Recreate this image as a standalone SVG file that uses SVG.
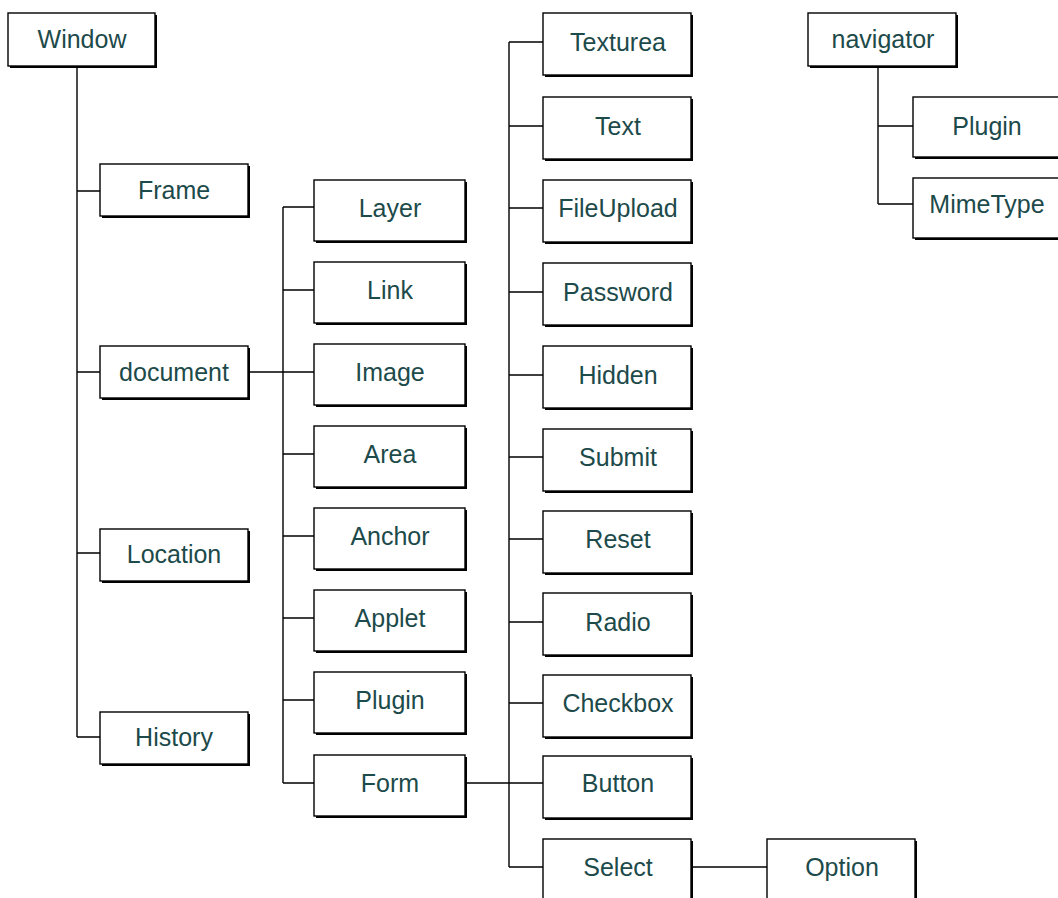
<svg xmlns="http://www.w3.org/2000/svg" width="1058" height="898" viewBox="0 0 1058 898">
<style>
.sh{fill:#000}
.bx{fill:#fff;stroke:#000;stroke-width:1.4}
.lb{font-family:"Liberation Sans",Arial,sans-serif;font-size:25px;fill:#1d4a4a;text-anchor:middle}
.cn{fill:none;stroke:#000;stroke-width:1.4}
</style>
<rect width="1058" height="898" fill="#fff"/>
<g id="connectors" class="cn">
<path d="M77 68V737M77 191H100M77 372H100M77 553H100M77 737H100"/>
<path d="M250 372H314M283 207V783M283 207H314M283 290H314M283 372H314M283 454H314M283 536H314M283 618H314M283 700H314M283 783H314"/>
<path d="M467 783H543M509 42V867M509 42H543M509 126H543M509 208H543M509 292H543M509 375H543M509 457H543M509 539H543M509 622H543M509 703H543M509 783H543M509 867H543"/>
<path d="M693 867H767"/>
<path d="M878 68V204M878 126H913M878 204H913"/>
</g>
<g id="n-window"><rect class="sh" x="10" y="15" width="147" height="53"/><rect class="bx" x="8" y="13" width="147" height="53"/><text class="lb" x="82" y="48">Window</text></g>
<g id="n-frame"><rect class="sh" x="102" y="166" width="148" height="52"/><rect class="bx" x="100" y="164" width="148" height="52"/><text class="lb" x="174" y="199">Frame</text></g>
<g id="n-document"><rect class="sh" x="102" y="348" width="148" height="52"/><rect class="bx" x="100" y="346" width="148" height="52"/><text class="lb" x="174" y="381">document</text></g>
<g id="n-location"><rect class="sh" x="102" y="531" width="148" height="52"/><rect class="bx" x="100" y="529" width="148" height="52"/><text class="lb" x="174" y="563">Location</text></g>
<g id="n-history"><rect class="sh" x="102" y="714" width="148" height="52"/><rect class="bx" x="100" y="712" width="148" height="52"/><text class="lb" x="174" y="746">History</text></g>

<g id="n-layer"><rect class="sh" x="316" y="182" width="151" height="61"/><rect class="bx" x="314" y="180" width="151" height="61"/><text class="lb" x="390" y="217">Layer</text></g>
<g id="n-link"><rect class="sh" x="316" y="264" width="151" height="61"/><rect class="bx" x="314" y="262" width="151" height="61"/><text class="lb" x="390" y="299">Link</text></g>
<g id="n-image"><rect class="sh" x="316" y="346" width="151" height="61"/><rect class="bx" x="314" y="344" width="151" height="61"/><text class="lb" x="390" y="381">Image</text></g>
<g id="n-area"><rect class="sh" x="316" y="428" width="151" height="61"/><rect class="bx" x="314" y="426" width="151" height="61"/><text class="lb" x="390" y="463">Area</text></g>
<g id="n-anchor"><rect class="sh" x="316" y="510" width="151" height="61"/><rect class="bx" x="314" y="508" width="151" height="61"/><text class="lb" x="390" y="545">Anchor</text></g>
<g id="n-applet"><rect class="sh" x="316" y="592" width="151" height="61"/><rect class="bx" x="314" y="590" width="151" height="61"/><text class="lb" x="390" y="627">Applet</text></g>
<g id="n-plugin1"><rect class="sh" x="316" y="674" width="151" height="61"/><rect class="bx" x="314" y="672" width="151" height="61"/><text class="lb" x="390" y="709">Plugin</text></g>
<g id="n-form"><rect class="sh" x="316" y="757" width="151" height="61"/><rect class="bx" x="314" y="755" width="151" height="61"/><text class="lb" x="390" y="792">Form</text></g>

<g id="n-texturea"><rect class="sh" x="545" y="15" width="148" height="62"/><rect class="bx" x="543" y="13" width="148" height="62"/><text class="lb" x="618" y="51">Texturea</text></g>
<g id="n-text"><rect class="sh" x="545" y="99" width="148" height="62"/><rect class="bx" x="543" y="97" width="148" height="62"/><text class="lb" x="618" y="135">Text</text></g>
<g id="n-fileupload"><rect class="sh" x="545" y="182" width="148" height="62"/><rect class="bx" x="543" y="180" width="148" height="62"/><text class="lb" x="618" y="217">FileUpload</text></g>
<g id="n-password"><rect class="sh" x="545" y="265" width="148" height="62"/><rect class="bx" x="543" y="263" width="148" height="62"/><text class="lb" x="618" y="301">Password</text></g>
<g id="n-hidden"><rect class="sh" x="545" y="348" width="148" height="62"/><rect class="bx" x="543" y="346" width="148" height="62"/><text class="lb" x="618" y="384">Hidden</text></g>
<g id="n-submit"><rect class="sh" x="545" y="431" width="148" height="62"/><rect class="bx" x="543" y="429" width="148" height="62"/><text class="lb" x="618" y="466">Submit</text></g>
<g id="n-reset"><rect class="sh" x="545" y="513" width="148" height="62"/><rect class="bx" x="543" y="511" width="148" height="62"/><text class="lb" x="618" y="548">Reset</text></g>
<g id="n-radio"><rect class="sh" x="545" y="595" width="148" height="62"/><rect class="bx" x="543" y="593" width="148" height="62"/><text class="lb" x="618" y="631">Radio</text></g>
<g id="n-checkbox"><rect class="sh" x="545" y="677" width="148" height="62"/><rect class="bx" x="543" y="675" width="148" height="62"/><text class="lb" x="618" y="712">Checkbox</text></g>
<g id="n-button"><rect class="sh" x="545" y="758" width="148" height="62"/><rect class="bx" x="543" y="756" width="148" height="62"/><text class="lb" x="618" y="792">Button</text></g>
<g id="n-select"><rect class="sh" x="545" y="841" width="148" height="62"/><rect class="bx" x="543" y="839" width="148" height="62"/><text class="lb" x="618" y="876">Select</text></g>
<g id="n-option"><rect class="sh" x="769" y="841" width="148" height="62"/><rect class="bx" x="767" y="839" width="148" height="62"/><text class="lb" x="842" y="876">Option</text></g>

<g id="n-navigator"><rect class="sh" x="810" y="15" width="148" height="53"/><rect class="bx" x="808" y="13" width="148" height="53"/><text class="lb" x="883" y="48">navigator</text></g>
<g id="n-plugin2"><rect class="sh" x="915" y="99" width="148" height="60"/><rect class="bx" x="913" y="97" width="148" height="60"/><text class="lb" x="987" y="135">Plugin</text></g>
<g id="n-mimetype"><rect class="sh" x="915" y="180" width="148" height="60"/><rect class="bx" x="913" y="178" width="148" height="60"/><text class="lb" x="987" y="213">MimeType</text></g>
</svg>
